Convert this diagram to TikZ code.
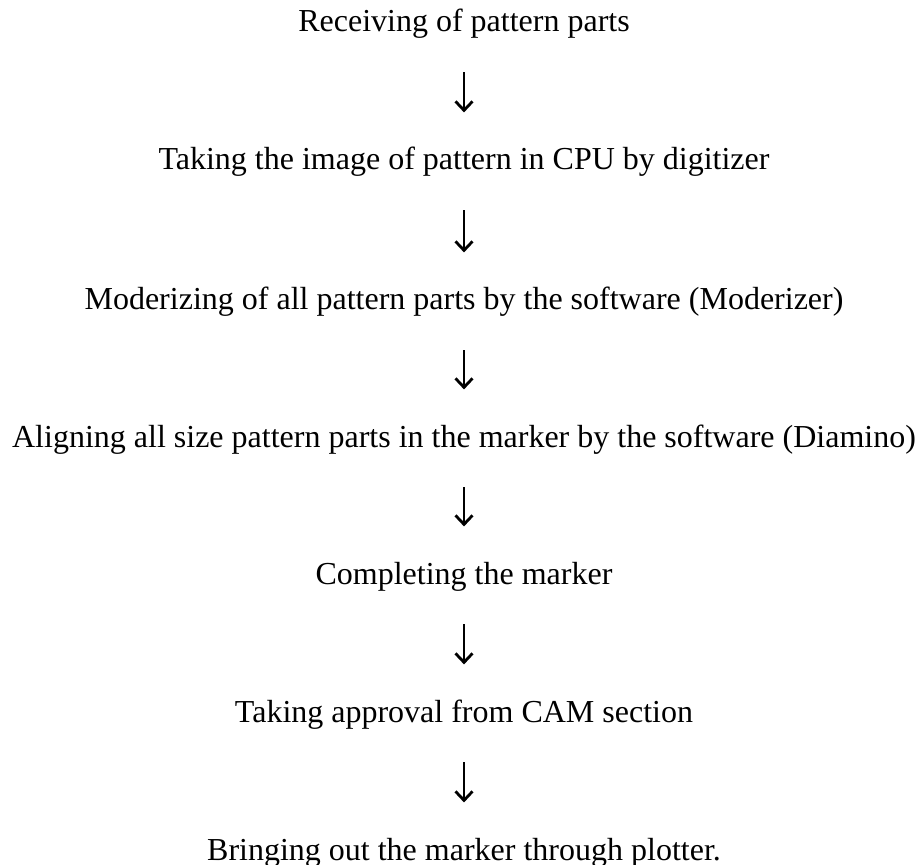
\documentclass[tikz,border=0pt]{standalone}
\usepackage{fontspec}
\setmainfont{Liberation Serif}
\usetikzlibrary{arrows.meta}
\begin{document}
\begin{tikzpicture}[x=0.5pt, y=-0.5pt, >={Straight Barb[length=4.5pt,width=8.5pt,line width=1.4pt]},
	stepline/.style={anchor=base, inner sep=0pt, text height=10.6pt, text depth=3.5pt, font=\fontsize{16pt}{19pt}\selectfont},
	flow/.style={->, line width=1pt, shorten <=16.5pt, shorten >=18pt}]
	\useasboundingbox (0,0) rectangle (919,865);
	\node [stepline] (receive) at (464,32) {Receiving of pattern parts};
	\node [stepline] (image) at (464,170) {Taking the image of pattern in CPU by digitizer};
	\node [stepline] (moder) at (464,310) {Moderizing of all pattern parts by the software (Moderizer)};
	\node [stepline] (align) at (464,447) {Aligning all size pattern parts in the marker by the software (Diamino)};
	\node [stepline] (complete) at (464,584) {Completing the marker};
	\node [stepline] (approve) at (464,722) {Taking approval from CAM section};
	\node [stepline] (plot) at (464,860) {Bringing out the marker through plotter.};
	\draw [flow] (receive) -- (image);
	\draw [flow] (image) -- (moder);
	\draw [flow] (moder) -- (align);
	\draw [flow] (align) -- (complete);
	\draw [flow] (complete) -- (approve);
	\draw [flow] (approve) -- (plot);
\end{tikzpicture}
\end{document}
